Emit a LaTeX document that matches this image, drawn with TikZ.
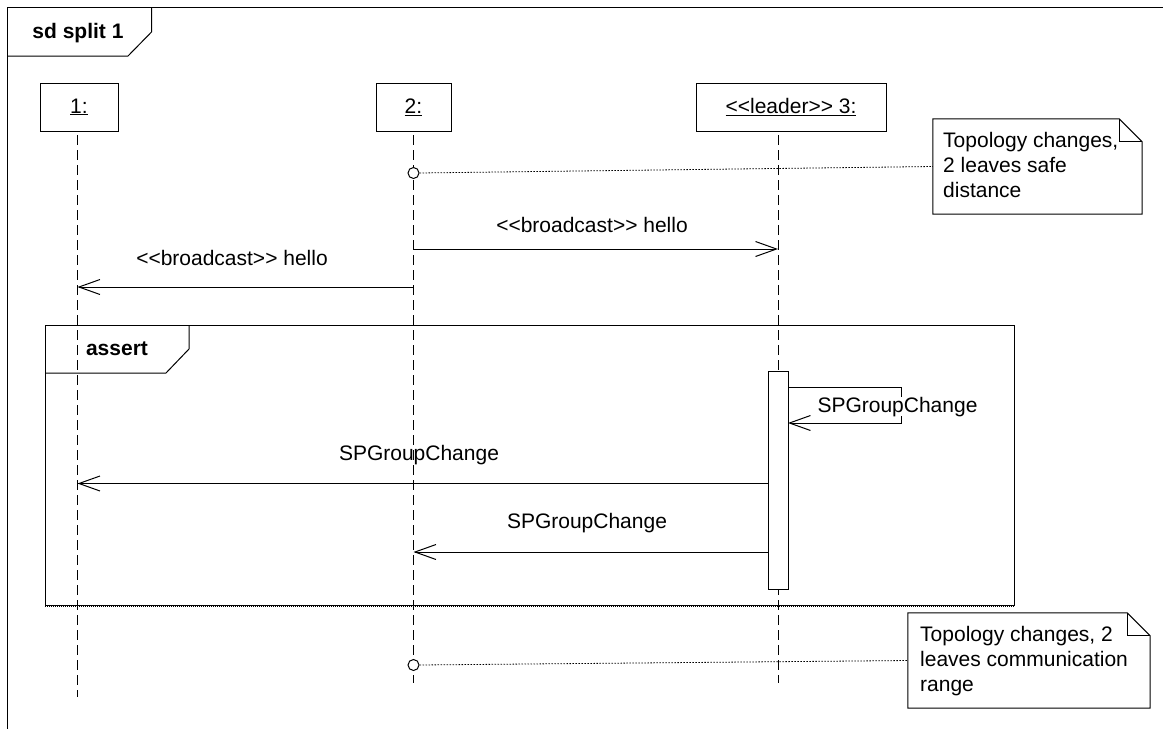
\documentclass[tikz,border=0pt]{standalone}
\usepackage{fontspec}
\setmainfont{Liberation Sans}[Ligatures=TeXOff]
\usetikzlibrary{arrows.meta}
\begin{document}
\begin{tikzpicture}[x=1pt,y=-1pt,
  every node/.style={font=\fontsize{21}{25}\selectfont},
  ln/.style={line width=1pt},
  lifebox/.style={draw,line width=1pt,rectangle,minimum height=48pt,inner sep=0pt},
  lifeline/.style={line width=1pt,dash pattern=on 10pt off 5pt},
  msg/.style={line width=1pt,-{Straight Barb[length=21pt,width=15pt]}},
  lbl/.style={anchor=base,inner sep=0pt},
  notetxt/.style={anchor=north west,align=left,inner sep=0pt},
  notebody/.style={minimum height=95pt,inner sep=0pt},
  noteline/.style={line width=0.8pt,dash pattern=on 1.5pt off 1.5pt},
  anchorcirc/.style={circle,draw,fill=white,line width=1pt,minimum size=11pt,inner sep=0pt},
  actbox/.style={draw,fill=white,line width=1pt,minimum width=20pt,minimum height=218pt,inner sep=0pt}
]
\useasboundingbox (0,0) rectangle (1163,729);
% outer frame
\coordinate (fo) at (7.5,7.5);
\coordinate (ftr) at (1163,7.5);
\coordinate (fbl) at (7.5,729);
\draw[ln] (ftr) -- (fo) -- (fbl);
\draw[ln] (7.5,56) -- (128,56) -- (151.5,32) -- (151.5,7.5);
\node[lbl,font=\fontsize{21}{25}\selectfont\bfseries] (title) at (78,38) {sd split 1};

% lifeline heads
\node[lifebox,minimum width=78pt] (h1) at (79,107) {\underline{1:}};
\node[lifebox,minimum width=75pt] (h2) at (413.5,107) {\underline{2:}};
\node[lifebox,minimum width=190pt] (h3) at (791,107) {\underline{<<leader>> 3:}};

% lifelines
\coordinate (l1t) at (77.5,135); \coordinate (l1b) at (77.5,697);
\coordinate (l2t) at (413.5,135); \coordinate (l2b) at (413.5,683);
\coordinate (l3t) at (778,135); \coordinate (l3b) at (778,683);
\draw[lifeline] (l1t) -- (l1b);
\draw[lifeline] (l2t) -- (l2b);
\draw[lifeline] (l3t) -- (l3b);

% note 1
\node[notebody,minimum width=209pt] (n1) at (1037.5,166.5) {};
\draw[ln] (n1.north west) -- ([xshift=-23pt]n1.north east) -- ([yshift=-23pt]n1.north east) -- (n1.south east) -- (n1.south west) -- cycle;
\draw[ln] ([xshift=-23pt]n1.north east) |- ([yshift=-23pt]n1.north east);
\node[notetxt] (t1) at (943,132) {Topology changes,\\2 leaves safe\\distance};
\node[anchorcirc] (c1) at (413.5,173) {};
\draw[noteline] (c1.east) -- (n1.west);

% broadcast messages
\coordinate (m1s) at (413.5,249); \coordinate (m1e) at (778,249);
\draw[msg] (m1s) -- (m1e);
\node[lbl] (m1l) at (592,232) {<<broadcast>> hello};
\coordinate (m2s) at (413.5,287); \coordinate (m2e) at (77.5,287);
\draw[msg] (m2s) -- (m2e);
\node[lbl] (m2l) at (232,265) {<<broadcast>> hello};

% assert fragment
\coordinate (aTL) at (45,325); \coordinate (aBR) at (1014,605);
\draw[ln] (aTL) rectangle (aBR);
\draw[line width=1pt,dash pattern=on 1pt off 1pt] (45,606.5) -- (1014,606.5);
\draw[ln] (45,373) -- (166,373) -- (189,349) -- (189,325);
\node[lbl,font=\fontsize{21}{25}\selectfont\bfseries] (al) at (117,355) {assert};

% activation
\node[actbox] (act) at (778,480) {};

% self message
\coordinate (s1) at (788,387); \coordinate (s2) at (901,387);
\coordinate (s3) at (901,423); \coordinate (s4) at (788,423);
\draw[msg] (s1) -- (s2) -- (s3) -- (s4);
\node[lbl,fill=white] (sl) at (897.5,412) {SPGroupChange};

% SPGroupChange to 1 and 2
\coordinate (g1s) at (768,483.5); \coordinate (g1e) at (77.5,483.5);
\draw[msg] (g1s) -- (g1e);
\node[lbl] (g1l) at (419,460) {SPGroupChange};
\coordinate (g2s) at (768,552); \coordinate (g2e) at (413.5,552);
\draw[msg] (g2s) -- (g2e);
\node[lbl] (g2l) at (587,528) {SPGroupChange};

% note 2
\node[notebody,minimum width=242pt] (n2) at (1029,660.5) {};
\draw[ln] (n2.north west) -- ([xshift=-23pt]n2.north east) -- ([yshift=-23pt]n2.north east) -- (n2.south east) -- (n2.south west) -- cycle;
\draw[ln] ([xshift=-23pt]n2.north east) |- ([yshift=-23pt]n2.north east);
\node[notetxt] (t2) at (920,626) {Topology changes, 2\\leaves communication\\range};
\node[anchorcirc] (c2) at (413.5,665) {};
\draw[noteline] (c2.east) -- (n2.west);
\end{tikzpicture}
\end{document}
